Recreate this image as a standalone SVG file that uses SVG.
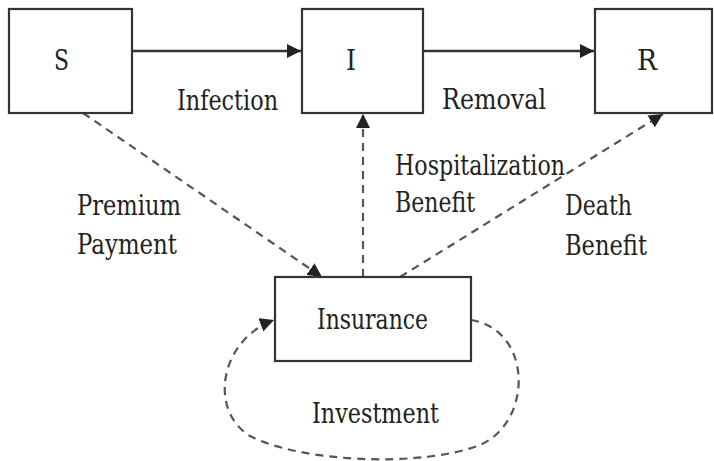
<svg xmlns="http://www.w3.org/2000/svg" width="714" height="461" viewBox="0 0 714 461">
<style>
.box{fill:#fff;stroke:#333;stroke-width:2.2}
.lbl{font-family:"DejaVu Serif","Liberation Serif",serif;font-size:27px;fill:#222}
.solid{fill:none;stroke:#333;stroke-width:2.4}
.dash{fill:none;stroke:#555;stroke-width:2.2;stroke-dasharray:8 6}
</style>
<defs>
<marker id="ah" viewBox="0 0 10 10" refX="10" refY="5" markerWidth="14" markerHeight="14" markerUnits="userSpaceOnUse" orient="auto">
<path d="M0,0 L10,5 L0,10 z" fill="#222"/>
</marker>
</defs>
<rect width="714" height="461" fill="#fff"/>
<g id="connectors">
<line class="solid" x1="132" y1="51" x2="301" y2="51" marker-end="url(#ah)"/>
<line class="solid" x1="423" y1="51" x2="594" y2="51" marker-end="url(#ah)"/>
<line class="dash" x1="83" y1="113" x2="322" y2="277" marker-end="url(#ah)"/>
<line class="dash" x1="363" y1="277" x2="363" y2="114" marker-end="url(#ah)"/>
<line class="dash" x1="400" y1="277" x2="663" y2="114" marker-end="url(#ah)"/>
<path class="dash" d="M471,320 C533,330 533,422 480,445 C420,468 300,462 250,436 C208,410 220,340 274,320" marker-end="url(#ah)"/>
</g>
<g id="node-S">
<rect class="box" x="9" y="9" width="123" height="104"/>
<text class="lbl" x="54" y="70" textLength="15" lengthAdjust="spacingAndGlyphs">S</text>
</g>
<g id="node-I">
<rect class="box" x="302" y="9" width="121" height="104"/>
<text class="lbl" x="346" y="70" textLength="10" lengthAdjust="spacingAndGlyphs">I</text>
</g>
<g id="node-R">
<rect class="box" x="595" y="9" width="117" height="104"/>
<text class="lbl" x="637" y="70" textLength="20" lengthAdjust="spacingAndGlyphs">R</text>
</g>
<g id="node-Insurance">
<rect class="box" x="275" y="277" width="196" height="84"/>
<text class="lbl" x="317" y="329" textLength="111" lengthAdjust="spacingAndGlyphs">Insurance</text>
</g>
<g id="labels">
<text class="lbl" x="177" y="110" textLength="101" lengthAdjust="spacingAndGlyphs">Infection</text>
<text class="lbl" x="442" y="109" textLength="104" lengthAdjust="spacingAndGlyphs">Removal</text>
<text class="lbl" x="77" y="215" textLength="104" lengthAdjust="spacingAndGlyphs">Premium</text>
<text class="lbl" x="77" y="254" textLength="100" lengthAdjust="spacingAndGlyphs">Payment</text>
<text class="lbl" x="395" y="175" textLength="170" lengthAdjust="spacingAndGlyphs">Hospitalization</text>
<text class="lbl" x="395" y="212" textLength="80" lengthAdjust="spacingAndGlyphs">Benefit</text>
<text class="lbl" x="565" y="215" textLength="67" lengthAdjust="spacingAndGlyphs">Death</text>
<text class="lbl" x="565" y="255" textLength="82" lengthAdjust="spacingAndGlyphs">Benefit</text>
<text class="lbl" x="312" y="423" textLength="127" lengthAdjust="spacingAndGlyphs">Investment</text>
</g>
</svg>
